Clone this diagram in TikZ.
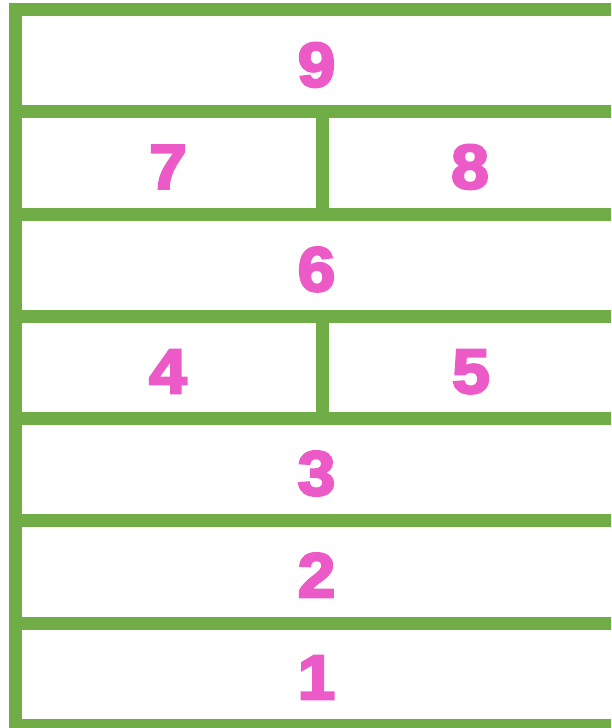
\documentclass[tikz,border=0pt]{standalone}
\usepackage{fontspec}
\setmainfont{Liberation Sans}
\newfontfamily\hvfont{Liberation Sans}[BoldFeatures={FakeBold=4,FakeStretch=1.08}]
\definecolor{grn}{HTML}{70AD47}
\definecolor{pnk}{HTML}{EC5AC8}
\begin{document}
\begin{tikzpicture}[x=0.75pt,y=-0.75pt,
  bar/.style={draw=grn,line width=9.75pt},
  num/.style={anchor=base,text=pnk,font=\hvfont\fontsize{47}{47}\selectfont\bfseries,inner sep=0pt}]
\useasboundingbox (0,0) rectangle (611,728);
\clip (0,0) rectangle (611,728);
\fill[white] (0,0) rectangle (611,728);
% horizontal lines
\foreach \yy in {9.5,111.5,214.5,316.5,418.5,520.5,623.5,725.5}
  \draw[bar] (9,\yy) -- (620,\yy);
% left bar
\draw[bar] (15.5,3) -- (15.5,740);
% vertical dividers
\draw[bar] (322.5,111.5) -- (322.5,214.5);
\draw[bar] (322.5,316.5) -- (322.5,418.5);
% labels
\node[num] (n9) at (316.5,86.5) {9};
\node[num] (n7) at (168,188.5) {7};
\node[num] (n8) at (470,188.5) {8};
\node[num] (n6) at (316.5,291) {6};
\node[num] (n4) at (168,393) {4};
\node[num] (n5) at (471,393) {5};
\node[num] (n3) at (316.5,495) {3};
\node[num] (n2) at (316.5,597) {2};
\node[num] (n1) at (316.5,699) {1};
\end{tikzpicture}
\end{document}
